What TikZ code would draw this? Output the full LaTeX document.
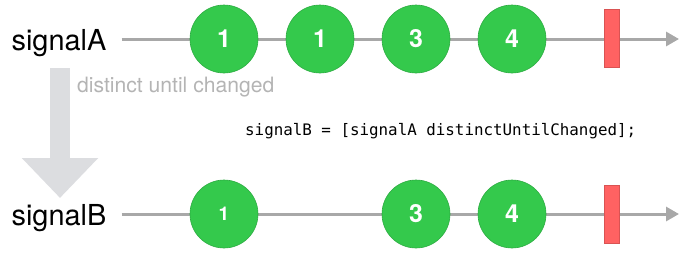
\documentclass[tikz,border=0pt]{standalone}
\usepackage{fontspec}
\setmainfont{TeX Gyre Heros}
\setmonofont{DejaVu Sans Mono}
\usetikzlibrary{arrows.meta}
\definecolor{evgreen}{RGB}{52,201,76}
\definecolor{donered}{RGB}{255,98,98}
\definecolor{linegray}{RGB}{168,168,168}
\definecolor{arrowgray}{RGB}{220,221,224}
\definecolor{notegray}{RGB}{180,180,180}

\begin{document}
\begin{tikzpicture}[x=1bp,y=-1bp,
    signal/.style={font=\fontsize{29}{29}\selectfont,inner sep=0,anchor=base},
    event/.style={circle,fill=evgreen,draw=evgreen!85!black,line width=0.6bp,minimum size=68bp,inner sep=0,text=white,font=\fontsize{25}{25}\selectfont\bfseries},
    done/.style={rectangle,fill=donered,draw=donered!85!black,line width=0.6bp,minimum width=15bp,minimum height=58bp,inner sep=0},
    timeline/.style={draw=linegray,line width=3bp,shorten <=15bp,-{Triangle[length=13bp,width=14bp]}},
    bigarrow/.style={draw=arrowgray,line width=20bp,-{Triangle[length=40bp,width=74bp]}}]
  \useasboundingbox (0,0) rectangle (690,254);
  % stream labels and their time lines
  \node[signal] (sigA) at (59,50) {signalA};
  \node[signal] (sigB) at (59,225) {signalB};
  \coordinate (endA) at (679,39);
  \coordinate (endB) at (679,214);
  \draw[timeline] (sigA.east |- endA) -- (endA);
  \draw[timeline] (sigB.east |- endB) -- (endB);
  % operator
  \coordinate (optop) at (60,68);
  \coordinate (optip) at (60,198);
  \draw[bigarrow] (optop) -- (optip);
  \node[text=notegray,font=\fontsize{21.2}{21}\selectfont,inner sep=0,anchor=base west] (opname) at (77,92) {distinct until changed};
  \node[font=\fontsize{15.9}{16}\ttfamily,inner sep=0,anchor=base west] (call) at (245,135) {signalB = [signalA distinctUntilChanged];};
  % events
  \node[event] (a1) at (224,39) {1};
  \node[event] (a2) at (320,39) {1};
  \node[event] (a3) at (416,39) {3};
  \node[event] (a4) at (512,39) {4};
  \node[done] (aend) at (611.5,38) {};
  \node[event,font=\fontsize{19}{19}\selectfont\bfseries] (b1) at (224,214) {1};
  \node[event] (b3) at (416,214) {3};
  \node[event] (b4) at (512,214) {4};
  \node[done] (bend) at (611.5,214) {};
\end{tikzpicture}
\end{document}
